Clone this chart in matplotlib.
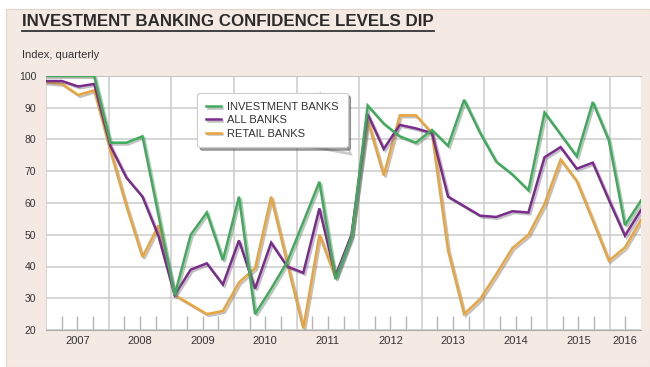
import matplotlib
matplotlib.use("Agg")
import matplotlib.pyplot as plt
import matplotlib.patheffects as pe
from matplotlib.patches import Rectangle, Polygon
from matplotlib.lines import Line2D
import numpy as np

plt.rcParams['font.family'] = ['Liberation Sans Narrow', 'Liberation Sans', 'DejaVu Sans']

# quarterly index values, 2007 Q1 .. 2016 Q2
investment_banks = [100, 100, 100, 100, 79, 79, 81, 56, 31, 50, 57,
                    42, 62, 25, 33, 41.5, 54, 66.7, 36, 49.3, 90.7, 85, 81, 79,
                    83, 78, 92.5, 82, 73, 69, 64, 88.5, 81.6, 74.7, 91.8, 79.7, 53, 60.8]
all_banks = [98.4, 98.4, 96.7, 97.5, 78, 68, 62, 49.5, 31, 39, 41,
             34.3, 48.2, 33, 47.5, 40, 38, 58.3, 37, 50, 88, 77, 84.6, 83.5,
             82, 62, 59, 56, 55.6, 57.4, 57, 74.4, 77.6, 70.8, 72.7, 61, 49.7, 57.8]
retail_banks = [98, 97.5, 94, 95.5, 76.5, 59, 43, 53, 31, 28, 25,
                26, 35, 39.5, 62, 41, 20.5, 50, 36.5, 50, 86, 68.7, 87.6, 87.6,
                82, 45, 25, 29.8, 37.6, 45.8, 50, 59.7, 73.7, 66.9, 54.5, 41.8, 46, 54.7]

years = list(range(2007, 2017))
year_labels = [str(y) for y in years]
y_ticks = list(range(20, 101, 10))

series = [
    ('INVESTMENT BANKS', investment_banks, '#3fac5c'),
    ('ALL BANKS', all_banks, '#7a2c8c'),
    ('RETAIL BANKS', retail_banks, '#eaa43c'),
]

W, H = 650, 367
def fx(px):
    return px / W
def fy(py):
    return 1 - py / H

fig = plt.figure(figsize=(W / 100, H / 100), dpi=100, facecolor='white')

# beige panel behind the chart
fig.patches.append(Rectangle((fx(6), 0), 1 - fx(6), fy(9), transform=fig.transFigure,
                             facecolor='#f5eae3', edgecolor='#e3d3c9', lw=0.8, zorder=-1))

ax = fig.add_axes([fx(46), fy(330), fx(641) - fx(46), fy(76) - fy(330)])
ax.set_facecolor('white')
ax.set_xlim(2007, 2016.5)
ax.set_ylim(20, 100)

x = np.linspace(2007, 2016.5, len(investment_banks))

for name, vals, col in reversed(series):
    ax.plot(x, vals, color=col, lw=1.8, label=name, zorder=3, solid_joinstyle='miter',
            path_effects=[pe.SimpleLineShadow(offset=(1.3, -1.3), shadow_color='#777777', alpha=0.45),
                          pe.Normal()])

# grid
ax.set_yticks(y_ticks)
ax.set_xticks(years)
ax.set_xticklabels([])
ax.set_xticks(np.arange(2007, 2016.5, 0.25), minor=True)
ax.grid(True, which='major', color='#cccccc', lw=1.1, zorder=1)
ax.set_axisbelow(True)
ax.tick_params(axis='x', which='major', length=0)
ax.tick_params(axis='x', which='minor', direction='in', length=10, width=1, color='#b5b5b5')
ax.tick_params(axis='y', length=0, labelsize=7.5, labelcolor='#333333', pad=7)
for s in ['left', 'right']:
    ax.spines[s].set_visible(False)
ax.spines['bottom'].set_color('#aaaaaa')
ax.spines['top'].set_color('#c4c4c4')

# year labels centred in each year
label_x = [y + 0.5 for y in years[:-1]] + [2016.25]
for lx, lab in zip(label_x, year_labels):
    ax.text(lx, -0.045, lab, transform=ax.get_xaxis_transform(), ha='center', va='center',
            fontsize=8, color='#333333')

# legend with callout tail
tail = Polygon([(0.461, 0.937), (0.511, 0.697), (0.422, 0.736)], closed=True,
               transform=ax.transAxes, facecolor='white', edgecolor='#cccccc', lw=0.8, zorder=4,
               path_effects=[pe.SimplePatchShadow(offset=(2, -2), alpha=0.3), pe.Normal()])
ax.add_patch(tail)
handles, labels = ax.get_legend_handles_labels()
leg = ax.legend(handles[::-1], labels[::-1], loc='upper left', bbox_to_anchor=(0.245, 0.955),
                fontsize=8, handlelength=1.3, handletextpad=0.6, labelspacing=0.3,
                borderpad=0.8, frameon=True, fancybox=True, shadow=True, labelcolor='#333333')
leg.get_frame().set_edgecolor('#cccccc')
leg.get_frame().set_linewidth(0.8)
leg.set_zorder(5)

title = fig.text(fx(22), fy(22), 'INVESTMENT BANKING CONFIDENCE LEVELS DIP', ha='left', va='center',
                 fontsize=12.2, fontweight='bold', color='#2b2b2b',
                 family=['Liberation Sans', 'DejaVu Sans'])
fig.text(fx(22), fy(55), 'Index, quarterly', ha='left', va='center', fontsize=8, color='#333333')

fig.canvas.draw()
bb = title.get_window_extent().transformed(fig.transFigure.inverted())
fig.add_artist(Line2D([bb.x0, bb.x1], [fy(31), fy(31)], transform=fig.transFigure,
                      color='#333333', lw=1.3))

fig.savefig('out.png', dpi=100, facecolor=fig.get_facecolor())
